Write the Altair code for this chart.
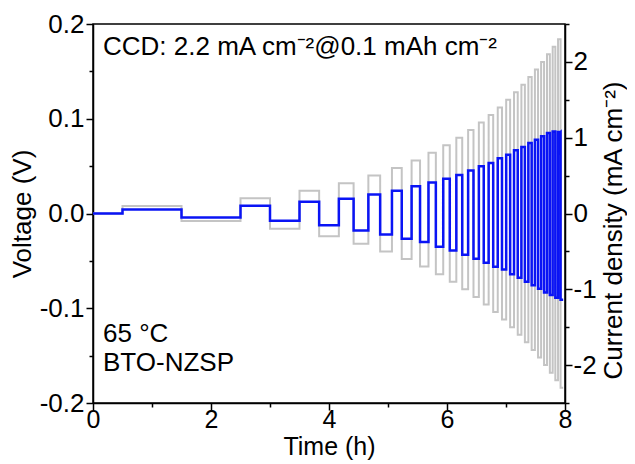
import altair as alt
import pandas as pd

# half-cycle boundary times (h)
t_bounds = [0.5, 1.5, 2.5, 3.0, 3.5, 3.833, 4.167, 4.417, 4.667, 4.867, 5.067,
            5.233, 5.4, 5.543, 5.686, 5.811, 5.936, 6.047, 6.158, 6.258, 6.358,
            6.449, 6.54, 6.623, 6.706, 6.783, 6.86, 6.932, 7.003, 7.07, 7.136,
            7.199, 7.261, 7.32, 7.379, 7.435, 7.49, 7.543, 7.595, 7.645, 7.695,
            7.743, 7.791, 7.836, 7.882, 7.925, 7.969]
# current density steps (mA cm-2)
currents = [0.1, 0.2, 0.3, 0.4, 0.5, 0.6, 0.7, 0.8, 0.9, 1.0, 1.1, 1.2,
            1.3, 1.4, 1.5, 1.6, 1.7, 1.8, 1.9, 2.0, 2.1, 2.2, 2.3]
# voltage plateaus (V) during positive and negative half cycles
v_pos = [0.0042, 0.0081, 0.0123, 0.0155, 0.0200, 0.0239, 0.0288, 0.0326,
         0.0368, 0.0407, 0.0453, 0.0498, 0.0533, 0.0582, 0.0621, 0.0667,
         0.0702, 0.0744, 0.0779, 0.0814, 0.0850, 0.0866, 0.0860]
v_neg = [-0.0042, -0.0077, -0.0123, -0.0179, -0.0221, -0.0267, -0.0302,
         -0.0351, -0.0390, -0.0435, -0.0477, -0.0519, -0.0561, -0.0590,
         -0.0642, -0.0677, -0.0719, -0.0758, -0.0793, -0.0835, -0.0860,
         -0.0888, -0.0910]
# short-circuit dip in the last (2.3 mA cm-2) plating step
dip_t = [7.900, 7.903, 7.906]
dip_v = [0.0860, 0.0620, 0.0850]

rows = [(0.0, 0.0, 0.0), (0.5, 0.0, 0.0)]
for k, j in enumerate(currents):
    t0, t1, t2 = t_bounds[2 * k], t_bounds[2 * k + 1], t_bounds[2 * k + 2]
    rows.append((t0, v_pos[k], j))
    if k == len(currents) - 1:
        for tt, vv in zip(dip_t, dip_v):
            rows.append((tt, vv, j))
    rows.append((t1, v_pos[k], j))
    rows.append((t1, v_neg[k], -j))
    rows.append((t2, v_neg[k], -j))

df = pd.DataFrame(rows, columns=["t", "V", "I"])
df["o"] = range(len(df))

FONT = "Liberation Sans"
FS = 26

x_enc = alt.X("t:Q", scale=alt.Scale(domain=[0, 8], nice=False),
              axis=alt.Axis(values=list(range(9)),
                            labelExpr="datum.value % 2 == 0 ? datum.label : ''",
                            tickSize={"condition": {"test": "datum.value % 2 == 0", "value": 7}, "value": 4},
                            title="Time (h)", labelPadding=-3, titlePadding=2,
                            labelFontSize=25, titleFontSize=25))

grey = alt.Chart(df).mark_line(color="#c4c4c4", strokeWidth=2, interpolate="linear").encode(
    x=x_enc,
    y=alt.Y("I:Q", scale=alt.Scale(domain=[-2.5, 2.5], nice=False),
            axis=alt.Axis(orient="right",
                          values=[-2.5, -2, -1.5, -1, -0.5, 0, 0.5, 1, 1.5, 2, 2.5],
                          labelExpr="datum.value % 1 == 0 ? replace(format(datum.value, 'd'), '\u2212', '-') : ''",
                          tickSize={"condition": {"test": "datum.value % 1 == 0", "value": 7}, "value": 4},
                          title="Current density (mA cm\u207b\u00b2)", titleAngle=270,
                          titleBaseline="top", titleAlign="center", titleY=206,
                          labelPadding=1, titlePadding=4)),
    order="o:Q",
)

blue = alt.Chart(df).mark_line(color="#0a14f5", strokeWidth=2.5, interpolate="linear").encode(
    x=x_enc,
    y=alt.Y("V:Q", scale=alt.Scale(domain=[-0.2, 0.2], nice=False),
            axis=alt.Axis(orient="left",
                          values=[-0.2, -0.15, -0.1, -0.05, 0, 0.05, 0.1, 0.15, 0.2],
                          labelExpr="abs(datum.value*10 - round(datum.value*10)) < 0.001 ? replace(format(datum.value, '.1f'), '\u2212', '-') : ''",
                          tickSize={"condition": {"test": "abs(datum.value*10 - round(datum.value*10)) < 0.001", "value": 7}, "value": 4},
                          title="Voltage (V)", labelPadding=2, titlePadding=4)),
    order="o:Q",
)

note_txt = ["CCD: 2.2 mA cm\u207b\u00b2@0.1 mAh cm\u207b\u00b2", "65 \u00b0C", "BTO-NZSP"]
note_px = [10, 10, 10]
note_py = [23, 310, 339]

texts = alt.layer(*[
    alt.Chart(pd.DataFrame({"txt": [s]})).mark_text(align="left", baseline="middle", font=FONT,
                                                   fontSize=FS, color="black").encode(
        x=alt.value(px), y=alt.value(py), text="txt:N")
    for s, px, py in zip(note_txt, note_px, note_py)
])

chart = alt.layer(grey, blue, texts).resolve_scale(y="independent").properties(
    width=472, height=379,
    autosize=alt.AutoSizeParams(type="none"),
    padding={"left": 85, "top": 16, "right": 62, "bottom": 60},
).configure_view(stroke="black", strokeWidth=1.5).configure_axis(
    labelFont=FONT, titleFont=FONT, labelFontSize=FS, titleFontSize=FS,
    labelColor="black", titleColor="black", titleFontWeight="normal",
    domainColor="black", tickColor="black", domainWidth=1.5, tickWidth=1.5,
    grid=False, labelFlush=False,
)

chart.save("out.html", embed_options={"renderer": "svg", "actions": False})
